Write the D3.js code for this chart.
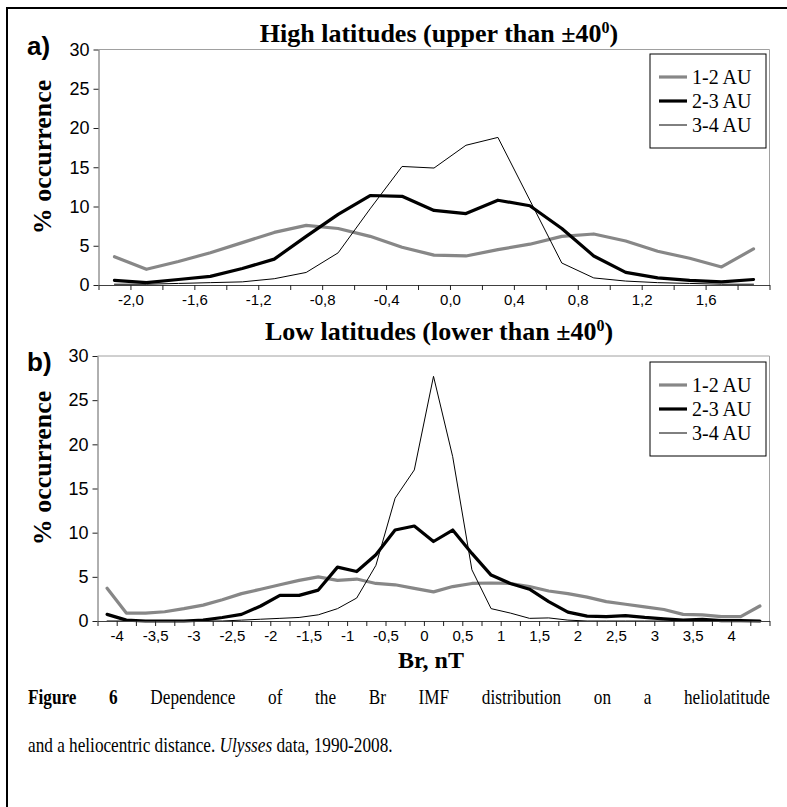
<!DOCTYPE html>
<html>
<head>
<meta charset="utf-8">
<script src="https://cdn.jsdelivr.net/npm/d3@7"></script>
<style>
body{margin:0;background:#fff}
svg{display:block}
</style>
</head>
<body>
<div id="chart"></div>
<script>
// series names (legend order)
const seriesNames = ["1-2 AU","2-3 AU","3-4 AU"]

// a) high latitudes: bin centres (Br, nT) and % occurrence
const highBr = [-2.1,-1.9,-1.7,-1.5,-1.3,-1.1,-0.9,-0.7,-0.5,-0.3,-0.1,0.1,0.3,0.5,0.7,0.9,1.1,1.3,1.5,1.7,1.9]
const high12 = [3.6,2.0,3.0,4.1,5.4,6.7,7.6,7.2,6.2,4.8,3.8,3.7,4.5,5.2,6.2,6.5,5.6,4.3,3.4,2.3,4.6]
const high23 = [0.6,0.3,0.7,1.1,2.1,3.3,6.2,9.0,11.4,11.3,9.5,9.1,10.8,10.1,7.2,3.7,1.6,0.9,0.6,0.4,0.7]
const high34 = [0.1,0.1,0.2,0.3,0.4,0.8,1.6,4.1,9.7,15.1,14.9,17.8,18.8,10.8,2.8,0.9,0.5,0.3,0.2,0.1,0.1]
const highTickLabels = [-2.0,-1.6,-1.2,-0.8,-0.4,0.0,0.4,0.8,1.2,1.6]

// b) low latitudes
const lowBr = [-4.125,-3.875,-3.625,-3.375,-3.125,-2.875,-2.625,-2.375,-2.125,-1.875,-1.625,-1.375,-1.125,-0.875,-0.625,-0.375,-0.125,
  0.125,0.375,0.625,0.875,1.125,1.375,1.625,1.875,2.125,2.375,2.625,2.875,3.125,3.375,3.625,3.875,4.125,4.375]
const low12 = [3.7,0.9,0.9,1.05,1.4,1.8,2.4,3.1,3.6,4.1,4.6,5.0,4.6,4.75,4.25,4.1,3.7,3.3,3.9,4.25,4.3,4.25,3.9,3.4,3.1,2.7,2.2,1.9,1.6,1.3,0.75,0.7,0.5,0.5,1.7]
const low23 = [0.75,0.1,0,0,0,0.1,0.4,0.75,1.7,2.9,2.9,3.5,6.1,5.6,7.5,10.3,10.75,9.0,10.3,7.65,5.2,4.25,3.6,2.2,1.0,0.55,0.5,0.6,0.4,0.25,0.1,0.2,0.05,0.05,0]
const low34 = [0,0,0,0,0,0,0,0.1,0.2,0.3,0.4,0.7,1.4,2.6,6.3,13.9,17.1,27.7,18.6,5.8,1.4,0.9,0.3,0.35,0.1,0,0,0,0,0,0,0,0,0,0]
const lowTickLabels = [-4,-3.5,-3,-2.5,-2,-1.5,-1,-0.5,0,0.5,1,1.5,2,2.5,3,3.5,4]

const yTicks = [0,5,10,15,20,25,30]

const STYLES = [
  {color:"#878787", width:3.2},
  {color:"#000", width:3.2},
  {color:"#000", width:1}
]

const W = 787, H = 807
const svg = d3.select("#chart").append("svg")
  .attr("width",W)
  .attr("height",H)

// outer frame (right and bottom edges run off the page)
svg.append("rect")
  .attr("x",7).attr("y",8)
  .attr("width",W+20).attr("height",H+20)
  .attr("fill","none")
  .attr("stroke","#000")
  .attr("stroke-width",2)

// decimal comma, plain hyphen
const fixedFmt = d => d3.format(".1f")(d).replace(".",",").replace("−","-")
const shortFmt = d => (Number.isInteger(d) ? String(d) : d3.format(".1f")(d)).replace(".",",").replace("−","-")

function drawPanel(p){
  const x = d3.scaleLinear().domain(p.xDomain).range([p.left,p.right])
  const y = d3.scaleLinear().domain([0,30]).range([p.bottom,p.top])

  // plot frame
  svg.append("path")
    .attr("d",`M${p.left},${p.top}H${p.right}V${p.bottom}`)
    .attr("fill","none")
    .attr("stroke","#a0a0a0")
    .attr("stroke-width",1)

  const line = d3.line()
    .x((d,i)=>x(p.xs[i]))
    .y(d=>y(d))

  p.series.forEach((vals,k)=>{
    svg.append("path")
      .datum(vals)
      .attr("d",line)
      .attr("fill","none")
      .attr("stroke",STYLES[k].color)
      .attr("stroke-width",STYLES[k].width)
      .attr("stroke-linejoin","round")
      .attr("stroke-linecap","round")
  })

  // x axis: a tick at every bin edge, labels on every second one
  const labelled = p.tickLabels.map(v=>+v.toFixed(3))
  const xAxis = d3.axisBottom(x)
    .tickValues(p.edges)
    .tickSize(5)
    .tickSizeOuter(0)
    .tickPadding(4)
    .tickFormat(d=>labelled.includes(+d.toFixed(3)) ? p.fmt(+d.toFixed(2)) : "")
  const gx = svg.append("g")
    .attr("transform",`translate(0,${p.bottom})`)
    .call(xAxis)
  gx.select(".domain").attr("stroke","#404040")
  gx.selectAll(".tick line").attr("stroke","#202020")
  gx.selectAll("text")
    .attr("font-family","Liberation Sans, Arial, sans-serif")
    .attr("font-size",15)
    .attr("fill","#000")

  const yAxis = d3.axisLeft(y)
    .tickValues(yTicks)
    .tickSize(5)
    .tickSizeOuter(0)
    .tickPadding(4)
  const gy = svg.append("g")
    .attr("transform",`translate(${p.left},0)`)
    .call(yAxis)
  gy.select(".domain").attr("stroke","#606060")
  gy.selectAll(".tick line").attr("stroke","#202020")
  gy.selectAll("text")
    .attr("font-family","Liberation Sans, Arial, sans-serif")
    .attr("font-size",18)
    .attr("fill","#000")

  // panel title
  const t = svg.append("text")
    .attr("x",439).attr("y",p.titleY)
    .attr("text-anchor","middle")
    .attr("font-family","Liberation Serif, Times New Roman, serif")
    .attr("font-weight","bold")
    .attr("font-size",26)
  t.append("tspan").text(p.title + " \u00b140")
  t.append("tspan").attr("dy",-9).attr("font-size",16).text("0")
  t.append("tspan").attr("dy",9).text(")")

  // panel letter
  svg.append("text")
    .attr("x",27).attr("y",p.letterY)
    .attr("font-family","Liberation Sans, Arial, sans-serif")
    .attr("font-weight","bold")
    .attr("font-size",26)
    .text(p.letter)

  // y title
  svg.append("text")
    .attr("transform",`translate(42,${p.yTitleY}) rotate(-90)`)
    .attr("text-anchor","middle")
    .attr("dy","0.35em")
    .attr("font-family","Liberation Serif, Times New Roman, serif")
    .attr("font-weight","bold")
    .attr("font-size",26)
    .text("% occurrence")

  // legend
  const lg = svg.append("g").attr("transform",`translate(650,${p.legendY})`)
  lg.append("rect")
    .attr("width",116).attr("height",94)
    .attr("fill","#fff")
    .attr("stroke","#000")
    .attr("stroke-width",1)
  seriesNames.forEach((name,k)=>{
    const ry = 23 + k*24
    lg.append("line")
      .attr("x1",9).attr("x2",37)
      .attr("y1",ry).attr("y2",ry)
      .attr("stroke",STYLES[k].color)
      .attr("stroke-width",STYLES[k].width)
    lg.append("text")
      .attr("x",42).attr("y",ry)
      .attr("dy","0.35em")
      .attr("font-family","Liberation Serif, Times New Roman, serif")
      .attr("font-size",20)
      .text(name)
  })
}

drawPanel({
  xDomain:[-2.2,2.0], left:98.5, right:769.5, top:49.5, bottom:285,
  edges:d3.range(22).map(i=>-2.2+0.2*i),
  xs:highBr, series:[high12,high23,high34], tickLabels:highTickLabels, fmt:fixedFmt,
  title:"High latitudes (upper than", titleY:42, letter:"a)", letterY:55,
  yTitleY:157, legendY:54
})

drawPanel({
  xDomain:[-4.25,4.5], left:97.5, right:769.5, top:356, bottom:621,
  edges:d3.range(36).map(i=>-4.25+0.25*i),
  xs:lowBr, series:[low12,low23,low34], tickLabels:lowTickLabels, fmt:shortFmt,
  title:"Low latitudes (lower than", titleY:340, letter:"b)", letterY:371,
  yTitleY:468, legendY:362
})

// x axis title
svg.append("text")
  .attr("x",431).attr("y",668)
  .attr("text-anchor","middle")
  .attr("font-family","Liberation Serif, Times New Roman, serif")
  .attr("font-weight","bold")
  .attr("font-size",24)
  .text("Br, nT")

// caption: tall, slightly condensed Times; first line justified from x=28 to x=770
const capFont = "Liberation Serif, Times New Roman, serif"
const capSize = 21, capSx = 0.82
const cap = svg.append("g").attr("transform",`translate(28,0) scale(${capSx},1)`)
const capWords = [["Figure",true],["6",true],["Dependence"],["of"],["the"],["Br"],["IMF"],["distribution"],["on"],["a"],["heliolatitude"]]
const wordNodes = capWords.map(([w,b])=>cap.append("text")
  .attr("y",704)
  .attr("font-family",capFont)
  .attr("font-size",capSize)
  .attr("font-weight",b?"bold":"normal")
  .text(w))
const widths = wordNodes.map(n=>n.node().getComputedTextLength())
const gap = ((770-28)/capSx - d3.sum(widths))/(capWords.length-1)
let cx = 0
wordNodes.forEach((n,i)=>{ n.attr("x",cx); cx += widths[i]+gap })

const cap2 = cap.append("text")
  .attr("x",0).attr("y",752)
  .attr("font-family",capFont)
  .attr("font-size",capSize)
cap2.append("tspan").text("and a heliocentric distance. ")
cap2.append("tspan").attr("font-style","italic").text("Ulysses")
cap2.append("tspan").text(" data, 1990-2008.")
</script>
</body>
</html>
